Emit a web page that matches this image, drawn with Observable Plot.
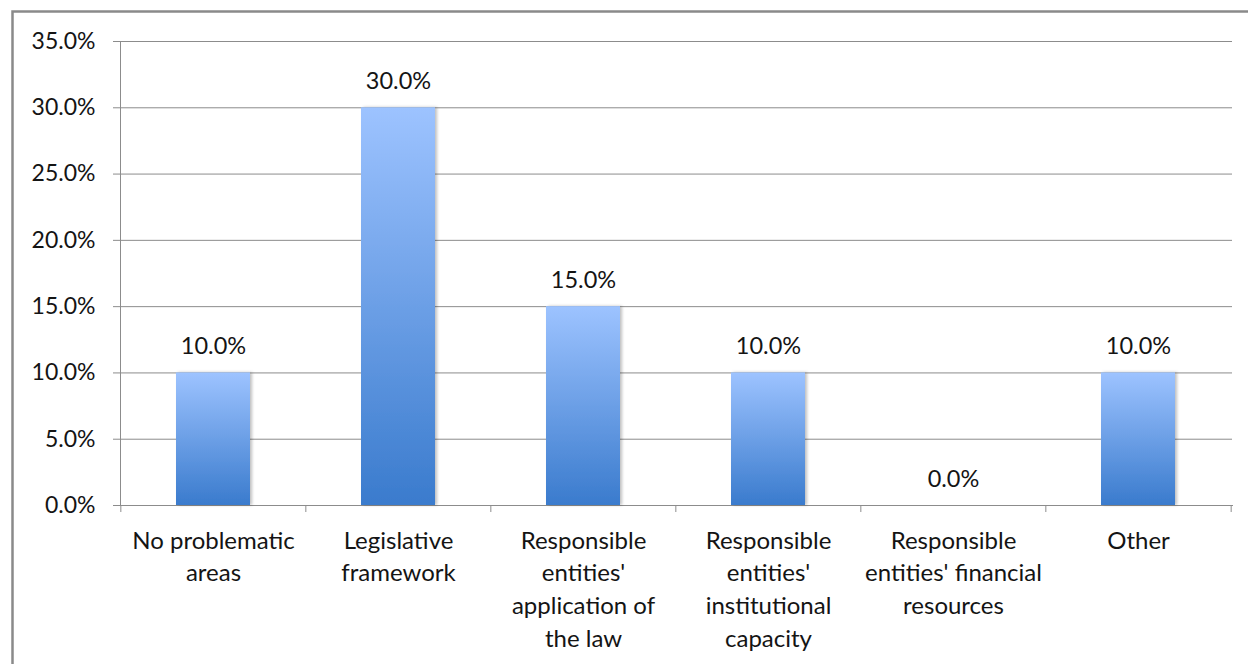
<!DOCTYPE html>
<html><head><meta charset="utf-8">
<script src="https://cdn.jsdelivr.net/npm/d3@7"></script>
<script src="https://cdn.jsdelivr.net/npm/@observablehq/plot@0.6"></script>
<style>
html,body{margin:0;padding:0;background:#fff;overflow:hidden}
#chart{position:relative;width:1248px;height:664px}
</style></head><body><div id="chart"></div>
<script>
const categories = ["No problematic areas", "Legislative framework", "Responsible entities' application of the law", "Responsible entities' institutional capacity", "Responsible entities' financial resources", "Other"];
const values = [10.0, 30.0, 15.0, 10.0, 0.0, 10.0];
const tickLabels = ["No problematic\nareas", "Legislative\nframework", "Responsible\nentities'\napplication of\nthe law", "Responsible\nentities'\ninstitutional\ncapacity", "Responsible\nentities' financial\nresources", "Other"];
const yTicks = [0, 5, 10, 15, 20, 25, 30, 35];

const data = categories.map((c, i) => ({cat: c, value: values[i]}));
const W = 1248, H = 664, mL = 120, mR = 16, mT = 41, mB = 159;
const step = (W - mL - mR) / categories.length;
const font = "Lato, 'Noto Sans', sans-serif";
const fs = 23;
const ink = "#141414";
const gridColor = "#8c8c8c";

const plot = Plot.plot({
  width: W, height: H,
  marginLeft: mL, marginRight: mR, marginTop: mT, marginBottom: mB,
  style: {fontFamily: font, fontSize: fs + "px", color: ink, background: "#fff"},
  x: {domain: categories, paddingInner: 0.6, paddingOuter: 0.3, label: null},
  y: {domain: [0, 35], label: null},
  marks: [
    Plot.gridY(yTicks, {stroke: gridColor, strokeOpacity: 1, strokeWidth: 1}),
    Plot.frame({anchor: "left", stroke: gridColor}),
    Plot.frame({anchor: "bottom", stroke: gridColor}),
    Plot.axisY(yTicks, {tickSize: 7, tickPadding: 18, stroke: gridColor, fill: ink, fontSize: fs, label: null,
      tickFormat: d => d.toFixed(1) + "%"}),
    Plot.axisX(categories, {tickSize: 7, text: null, stroke: gridColor, dx: -step / 2, label: null}),
    Plot.axisX([categories[categories.length - 1]], {tickSize: 7, text: null, stroke: gridColor, dx: step / 2, label: null}),
    Plot.axisX(categories, {tickSize: 0, tickPadding: 20, fill: ink, fontSize: 24, lineHeight: 1.36, label: null,
      tickFormat: (d) => tickLabels[categories.indexOf(d)]}),
    Plot.barY(data, {x: "cat", y: "value", fill: "url(#barGrad)"}),
    Plot.text(data, {x: "cat", y: "value", text: d => d.value.toFixed(1) + "%", dy: -26, fontSize: 23.5, fill: ink})
  ]
});

const svg = d3.select(plot);
const defs = svg.insert("defs", ":first-child");
const g = defs.append("linearGradient").attr("id", "barGrad").attr("x1", 0).attr("x2", 0).attr("y1", 0).attr("y2", 1);
g.append("stop").attr("offset", "0%").attr("stop-color", "#9DC3FF");
g.append("stop").attr("offset", "100%").attr("stop-color", "#3A7BCD");
const f = defs.append("filter").attr("id", "shadow").attr("x", "-20%").attr("y", "-5%").attr("width", "140%").attr("height", "110%");
f.append("feDropShadow").attr("dx", 2).attr("dy", 0).attr("stdDeviation", 1.5).attr("flood-color", "#000").attr("flood-opacity", 0.25);
svg.selectAll("g[aria-label='bar'] rect").attr("filter", "url(#shadow)");
svg.append("rect").attr("x", 12.5).attr("y", 11.5).attr("width", 1300).attr("height", 700)
  .attr("fill", "none").attr("stroke", "#8a8a8a").attr("stroke-width", 2.5);

document.getElementById("chart").appendChild(plot);
</script></body></html>
